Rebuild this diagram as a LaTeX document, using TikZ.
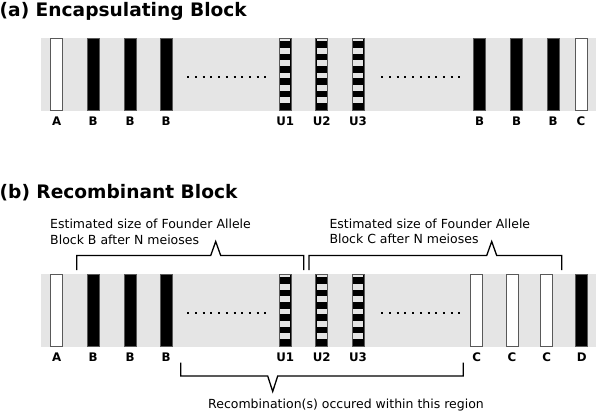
\documentclass[tikz,border=0pt]{standalone}
\usepackage{fontspec}
\setmainfont{DejaVu Sans}
\usetikzlibrary{positioning}
\definecolor{bandgray}{HTML}{E5E5E5}
\begin{document}
\begin{tikzpicture}[x=1pt,y=-1pt,
    title/.style={anchor=base west,inner sep=0,font=\fontsize{18.6}{22}\selectfont\bfseries},
    note/.style={anchor=north west,inner sep=0,align=left,font=\fontsize{12.5}{15.4}\selectfont},
    lab/.style={inner sep=0,font=\fontsize{11.8}{14}\selectfont\bfseries},
    bar/.style={draw=black!65,line width=1pt,minimum width=12,minimum height=72.7,inner sep=0},
    wbar/.style={bar,fill=white},
    bbar/.style={bar,fill=black},
    ubar/.style={bar,fill=black,path picture={
        \foreach \k in {0,...,5}
          \fill[bandgray] ([xshift=1,yshift={-12.3*\k+2.3}]path picture bounding box.north west)
            rectangle ([xshift=-1,yshift={-12.3*\k-3.4}]path picture bounding box.north east);}},
    dots/.style={line width=2pt,dash pattern=on 2pt off 5.7pt},
    brace/.style={line width=1.3pt,line join=miter}]
  \useasboundingbox (0,0) rectangle (596,410);

  % (a) encapsulating block
  \node[title] (ta) at (-0.5,16.3) {(a) Encapsulating Block};
  \fill[bandgray] (41,38) rectangle (596,110.7);
  \foreach \t/\x/\s [count=\i] in {A/56.8/wbar,B/93/bbar,B/130/bbar,B/166/bbar,
      U1/285.2/ubar,U2/321.7/ubar,U3/358/ubar,B/479.5/bbar,B/516.5/bbar,B/553/bbar,C/581/wbar}{
    \node[\s] (a\i) at (\x,74.35) {};
    \node[lab,below=5.8pt of a\i] (la\i) {\t};
  }
  \draw[dots] (187.3,77) -- (266.3,77);
  \draw[dots] (381.3,77) -- (460.3,77);

  % (b) recombinant block
  \node[title] (tb) at (-0.5,198.3) {(b) Recombinant Block};
  \fill[bandgray] (41,274) rectangle (596,346.7);
  \foreach \t/\x/\s [count=\i] in {A/56.8/wbar,B/93/bbar,B/130/bbar,B/166/bbar,
      U1/285.2/ubar,U2/321.7/ubar,U3/358/ubar,C/476.8/wbar,C/512/wbar,C/546.7/wbar,D/581.7/bbar}{
    \node[\s] (b\i) at (\x,310.35) {};
    \node[lab,below=5.3pt of b\i] (lb\i) {\t};
  }
  \draw[dots] (187.3,313) -- (266.3,313);
  \draw[dots] (381.3,313) -- (460.3,313);

  % braces and notes
  \draw[brace] (76.7,270) -- (76.7,255.5) -- (210.7,255.5) -- (215.7,241.5)
    -- (220.7,255.5) -- (303.8,255.5) -- (303.8,270);
  \draw[brace] (309,270) -- (309,255.5) -- (486.7,255.5) -- (491.7,241.5)
    -- (496.7,255.5) -- (561.7,255.5) -- (561.7,270);
  \node[note] (nb) at (50,219) {Estimated size of Founder Allele\\Block B after N meioses};
  \node[note] (nc) at (329.3,218.5) {Estimated size of Founder Allele\\Block C after N meioses};

  \draw[brace] (180.7,362.7) -- (180.7,376) -- (267.7,376) -- (272.7,391.5)
    -- (277.7,376) -- (463.3,376) -- (463.3,362.7);
  \node[note,anchor=base west] (nr) at (208,408.3) {Recombination(s) occured within this region};
\end{tikzpicture}
\end{document}
